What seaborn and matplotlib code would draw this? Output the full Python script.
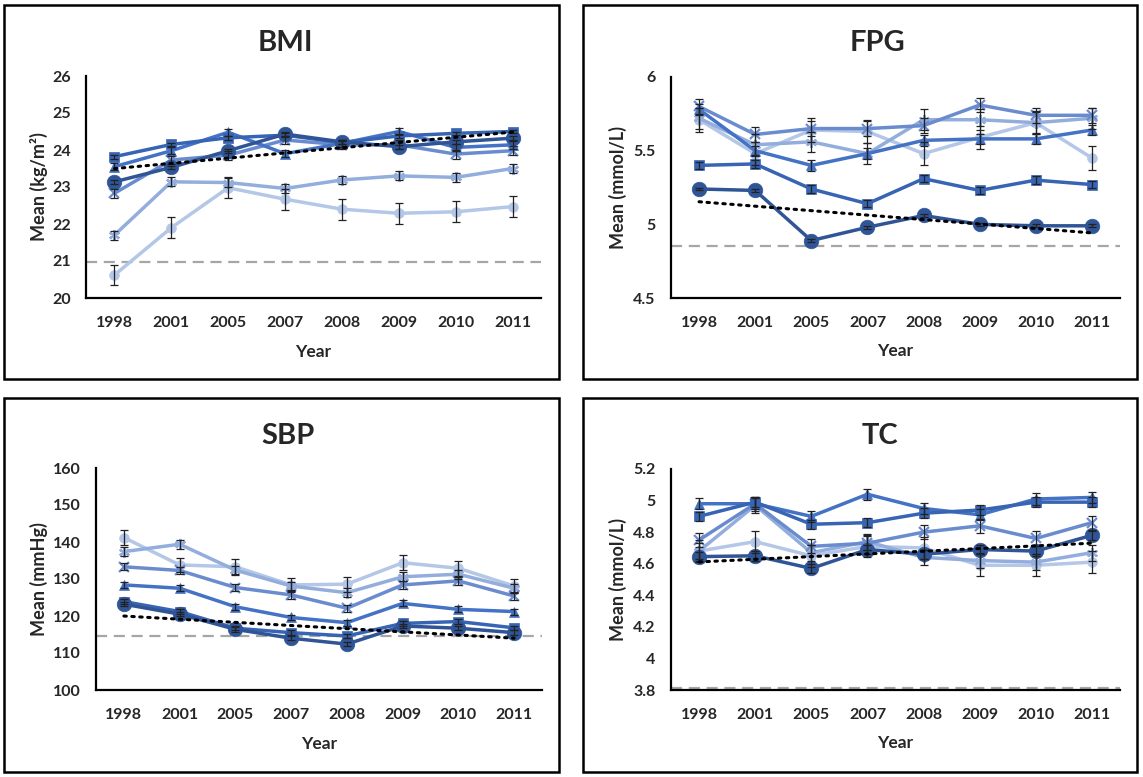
import numpy as np
import pandas as pd
import matplotlib
matplotlib.use("Agg")
import matplotlib.pyplot as plt
import seaborn as sns
from matplotlib.patches import Rectangle

W, H = 1143, 777

years = ["1998", "2001", "2005", "2007", "2008", "2009", "2010", "2011"]

# BMI (kg/m2)
bmi_circle = [23.14, 23.53, 23.98, 24.43, 24.22, 24.09, 24.22, 24.32]
bmi_square = [23.82, 24.15, 24.33, 24.40, 24.20, 24.38, 24.45, 24.50]
bmi_triangle = [23.55, 23.98, 24.48, 23.90, 24.18, 24.50, 24.07, 24.14]
bmi_x = [22.83, 23.73, 23.86, 24.27, 24.14, 24.14, 23.89, 23.98]
bmi_star = [21.70, 23.14, 23.12, 22.96, 23.19, 23.30, 23.26, 23.50]
bmi_light = [20.62, 21.90, 22.98, 22.67, 22.40, 22.29, 22.33, 22.47]
bmi_err = [0.05, 0.05, 0.10, 0.12, 0.12, 0.28]
bmi_ref = 20.97

# FPG (mmol/L)
fpg_circle = [5.24, 5.23, 4.89, 4.98, 5.06, 5.00, 4.99, 4.99]
fpg_square = [5.40, 5.41, 5.24, 5.14, 5.31, 5.23, 5.30, 5.27]
fpg_triangle = [5.78, 5.50, 5.40, 5.48, 5.57, 5.58, 5.58, 5.64]
fpg_x = [5.80, 5.61, 5.65, 5.65, 5.67, 5.81, 5.74, 5.74]
fpg_star = [5.72, 5.54, 5.56, 5.48, 5.71, 5.71, 5.69, 5.72]
fpg_light = [5.71, 5.48, 5.64, 5.63, 5.48, 5.59, 5.69, 5.45]
fpg_err = [0.01, 0.025, 0.035, 0.05, 0.07, 0.08]
fpg_ref = 4.85

# SBP (mmHg)
sbp_circle = [123.2, 120.5, 116.4, 114.0, 112.4, 117.3, 116.7, 115.5]
sbp_square = [123.9, 121.2, 116.7, 115.5, 114.6, 118.0, 118.5, 116.8]
sbp_triangle = [128.4, 127.5, 122.5, 119.6, 118.2, 123.4, 121.8, 121.2]
sbp_x = [133.3, 132.3, 127.7, 125.7, 122.1, 128.4, 129.5, 125.4]
sbp_star = [137.4, 139.4, 132.4, 128.1, 126.3, 130.6, 131.3, 127.5]
sbp_light = [141.2, 133.8, 133.3, 128.4, 128.6, 134.4, 132.9, 128.1]
sbp_err = [0.6, 0.6, 0.8, 1.0, 1.2, 2.0]
sbp_ref = 114.6

# TC (mmol/L)
tc_circle = [4.645, 4.65, 4.57, 4.69, 4.66, 4.69, 4.68, 4.78]
tc_square = [4.90, 4.99, 4.85, 4.86, 4.92, 4.94, 4.99, 4.99]
tc_triangle = [4.98, 4.98, 4.90, 5.04, 4.95, 4.91, 5.01, 5.02]
tc_x = [4.75, 4.98, 4.71, 4.73, 4.80, 4.84, 4.76, 4.86]
tc_star = [4.68, 4.97, 4.67, 4.74, 4.64, 4.62, 4.61, 4.67]
tc_light = [4.68, 4.74, 4.65, 4.71, 4.70, 4.59, 4.59, 4.61]
tc_err = [0.03, 0.03, 0.035, 0.045, 0.05, 0.07]
tc_ref = 3.81

# series styles: (marker, size, colour), dark circle last so it sits on top
styles = {
    "circle": ("o", 10.5, "#2F5597"),
    "square": ("s", 7, "#3864B4"),
    "triangle": ("^", 7.5, "#4472C4"),
    "x": ("x", 7, "#6A8CCF"),
    "star": ((6, 2, 0), 8, "#93ADDD"),
    "light": ("o", 7, "#B4C7E7"),
}
order = ["light", "star", "x", "triangle", "square", "circle"]

sns.set_theme(style="white")
plt.rcParams["font.family"] = ["Lato", "DejaVu Sans"]
plt.rcParams["font.weight"] = "bold"

fig = plt.figure(figsize=(W / 100, H / 100), dpi=100)


def px_axes(left, right, top, bottom):
    return fig.add_axes([left / W, 1 - bottom / H, (right - left) / W, (bottom - top) / H])


def draw_panel(box, axbox, title, title_x, ylabel, series, errs, ref, ylim, yticks):
    x0, y0, x1, y1 = box
    fig.add_artist(Rectangle((x0 / W, 1 - y1 / H), (x1 - x0) / W, (y1 - y0) / H,
                             transform=fig.transFigure, fill=False, lw=1.8, ec="black"))
    ax = px_axes(*axbox)
    pos = np.arange(len(years))
    errmap = dict(zip(["circle", "square", "triangle", "x", "star", "light"], errs))
    for key in order:
        marker, ms, color = styles[key]
        df = pd.DataFrame({"pos": pos, "val": series[key]})
        sns.lineplot(data=df, x="pos", y="val", ax=ax, color=color, lw=2.5,
                     marker=marker, markersize=ms, markeredgecolor=color,
                     markeredgewidth=1.6 if key in ("x", "star") else 0.5, zorder=3)
    for key in order:
        ax.errorbar(pos, series[key], yerr=errmap[key], fmt="none", ecolor="#222222",
                    elinewidth=0.9, capsize=3, capthick=0.9, zorder=4)
    # linear trend of the darkest series
    k, b = np.polyfit(pos, series["circle"], 1)
    ax.plot(pos, k * pos + b, color="black", lw=2.2, ls=(0, (0.8, 1.8)),
            dash_capstyle="round", zorder=5)
    ax.axhline(ref, color="#A6A6A6", lw=1.6, ls=(0, (5, 3)), zorder=2)

    ax.set_xlim(-0.5, len(years) - 0.5)
    ax.set_ylim(*ylim)
    ax.set_xticks(pos)
    ax.set_xticklabels(years)
    ax.set_yticks(yticks)
    ax.set_yticklabels([f"{t:g}" for t in yticks])
    ax.tick_params(axis="both", length=0, labelsize=11.5)
    ax.tick_params(axis="x", pad=13)
    ax.tick_params(axis="y", pad=11)
    for lab in ax.get_xticklabels() + ax.get_yticklabels():
        lab.set_fontweight("bold")
    for side in ("top", "right"):
        ax.spines[side].set_visible(False)
    for side in ("left", "bottom"):
        ax.spines[side].set_color("black")
        ax.spines[side].set_linewidth(1.6)
    ax.grid(False)
    ax.set_xlabel("Year", fontsize=12.5, fontweight="bold")
    ax.xaxis.set_label_coords(0.5, -0.205)
    ax.set_ylabel(ylabel, fontsize=13, fontweight="bold")
    left, right = axbox[0], axbox[1]
    ax.yaxis.set_label_coords((x0 + 44 - left) / (right - left), 0.5)
    fig.text(title_x / W, 1 - (y0 + 38) / H, title, ha="center", va="center",
             fontsize=21, fontweight="bold")
    return ax


def pack(c, s, t, x, st, l):
    return {"circle": c, "square": s, "triangle": t, "x": x, "star": st, "light": l}


draw_panel((4, 5, 559, 379), (86, 541, 76, 298), "BMI", 285, "Mean (kg/m²)",
           pack(bmi_circle, bmi_square, bmi_triangle, bmi_x, bmi_star, bmi_light),
           bmi_err, bmi_ref, (20, 26), [20, 21, 22, 23, 24, 25, 26])
draw_panel((583, 5, 1137, 379), (671, 1120, 77, 298), "FPG", 878, "Mean (mmol/L)",
           pack(fpg_circle, fpg_square, fpg_triangle, fpg_x, fpg_star, fpg_light),
           fpg_err, fpg_ref, (4.5, 6), [4.5, 5, 5.5, 6])
draw_panel((4, 398, 559, 772), (96, 542, 468, 690), "SBP", 288, "Mean (mmHg)",
           pack(sbp_circle, sbp_square, sbp_triangle, sbp_x, sbp_star, sbp_light),
           sbp_err, sbp_ref, (100, 160), [100, 110, 120, 130, 140, 150, 160])
draw_panel((583, 398, 1137, 772), (671, 1120, 469, 690), "TC", 880, "Mean (mmol/L)",
           pack(tc_circle, tc_square, tc_triangle, tc_x, tc_star, tc_light),
           tc_err, tc_ref, (3.8, 5.2), [3.8, 4.0, 4.2, 4.4, 4.6, 4.8, 5.0, 5.2])

fig.savefig("out.png", dpi=100)
